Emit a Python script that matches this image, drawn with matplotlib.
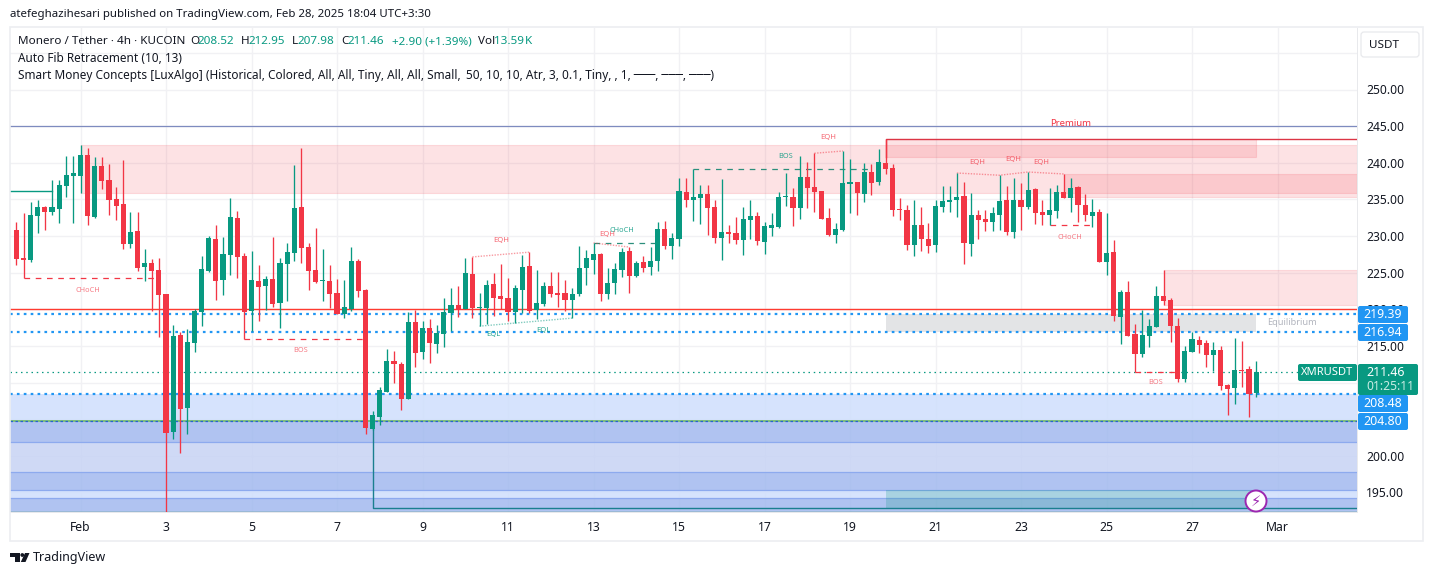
import matplotlib
matplotlib.use('Agg')
import matplotlib.pyplot as plt
from matplotlib.patches import FancyBboxPatch, Rectangle, Circle, Polygon

plt.rcParams['font.family'] = ['Noto Sans', 'DejaVu Sans']

# candles, 4h bars, index 0 is Feb 1 00:00
first_bar = -9
opens = [230.83, 227.0, 226.75, 232.75, 233.97, 233.3, 233.7, 236.8, 238.2, 238.2,
         241.06, 232.6, 239.56, 237.65, 235.06, 234.4, 228.9, 230.7, 225.8, 226.3,
         225.4, 222.1, 203.25, 216.5, 206.5, 215.4, 219.65, 225.25, 229.6, 224.0,
         227.4, 232.47, 227.3, 219.8, 223.9, 223.2, 224.15, 220.9, 226.2, 227.7,
         233.97, 228.5, 225.4, 223.9, 223.9, 222.2, 219.35, 220.05, 226.6, 222.6,
         203.7, 205.3, 208.7, 212.95, 212.55, 207.8, 218.3, 214.2, 217.45, 215.27,
         216.64, 219.5, 220.6, 220.05, 224.85, 220.2, 220.2, 223.47, 221.8, 221.55,
         219.65, 222.65, 225.9, 219.9, 220.75, 223.2, 222.2, 222.2, 221.3, 222.1,
         225.65, 226.7, 227.55, 222.1, 223.6, 225.4, 228.0, 224.55, 226.45, 225.8,
         226.6, 230.97, 228.65, 229.6, 236.0, 234.9, 235.2, 235.75, 233.97, 229.74,
         230.56, 230.4, 229.47, 232.2, 232.75, 229.2, 231.1, 231.25, 235.35, 235.35,
         233.8, 238.06, 236.7, 236.15, 232.47, 230.15, 230.85, 237.1, 237.4, 235.75,
         238.75, 237.4, 239.97, 239.3, 233.7, 233.56, 228.8, 231.5, 229.6, 228.8,
         233.97, 234.65, 234.9, 235.5, 228.9, 232.9, 232.3, 231.9, 232.9, 234.9,
         230.56, 234.9, 233.97, 236.4, 233.3, 232.9, 233.4, 236.0, 235.2, 236.7,
         234.24, 232.74, 233.3, 226.47, 227.8, 218.97, 222.4, 216.65, 213.9, 216.4,
         217.6, 221.8, 221.3, 217.74, 210.5, 214.2, 215.83, 215.4, 213.8, 214.47,
         209.7, 209.3, 211.74, 211.9, 208.52]
highs = [231.9, 233.1, 234.65, 234.9, 234.1, 237.65, 237.65, 240.9, 240.9, 242.4,
         242.0, 240.8, 240.8, 239.8, 236.7, 240.4, 233.3, 233.3, 228.2, 226.9,
         227.0, 222.1, 217.85, 216.9, 217.3, 220.0, 227.3, 230.0, 231.5, 229.9,
         235.2, 233.4, 227.7, 228.0, 226.06, 224.56, 229.9, 227.0, 229.05, 239.7,
         242.0, 229.05, 231.1, 228.2, 226.06, 224.15, 224.0, 228.5, 226.9, 222.8,
         206.1, 209.4, 214.6, 214.3, 212.8, 219.6, 219.9, 218.4, 218.7, 217.86,
         221.55, 222.9, 223.2, 227.0, 227.15, 222.2, 224.0, 225.0, 226.2, 224.3,
         223.3, 227.4, 227.8, 225.4, 223.75, 225.1, 225.1, 224.0, 222.9, 228.65,
         228.1, 229.05, 227.7, 225.65, 226.3, 228.4, 228.5, 226.6, 227.3, 228.5,
         231.9, 232.05, 230.4, 237.9, 237.9, 239.1, 236.97, 236.97, 234.9, 237.8,
         231.5, 232.6, 233.97, 234.9, 233.3, 231.9, 233.15, 236.0, 238.6, 236.56,
         240.9, 240.1, 241.3, 236.15, 233.8, 231.8, 241.6, 240.5, 237.4, 239.97,
         239.8, 241.9, 243.25, 239.8, 235.2, 234.25, 234.9, 233.97, 231.8, 234.9,
         236.8, 236.8, 238.6, 237.4, 235.9, 233.56, 233.56, 233.97, 238.3, 236.8,
         237.9, 237.24, 238.74, 236.6, 234.9, 236.56, 236.97, 238.47, 237.9, 236.8,
         235.74, 235.06, 233.7, 233.15, 229.47, 222.65, 223.9, 218.0, 219.9, 218.7,
         223.2, 225.4, 221.55, 218.8, 215.0, 216.9, 216.4, 215.83, 215.56, 215.0,
         209.8, 216.1, 215.7, 212.3, 212.95]
lows = [226.06, 224.25, 226.5, 230.4, 230.8, 232.9, 231.8, 235.3, 231.8, 235.9,
        231.5, 232.47, 236.4, 232.9, 232.2, 228.2, 228.4, 225.25, 223.9, 219.8,
        216.2, 192.2, 202.3, 200.4, 203.0, 214.2, 217.75, 225.1, 221.3, 222.0,
        224.7, 224.3, 215.9, 217.0, 218.4, 219.9, 220.36, 217.45, 221.15, 226.6,
        226.3, 222.65, 223.6, 221.15, 220.15, 219.35, 218.8, 219.8, 221.7, 203.0,
        203.5, 204.2, 208.7, 209.95, 206.3, 207.8, 212.1, 213.2, 212.7, 214.05,
        214.86, 217.05, 219.0, 220.05, 218.8, 217.7, 218.0, 219.1, 220.05, 218.4,
        218.15, 219.5, 219.5, 218.7, 220.45, 221.7, 220.3, 219.8, 218.8, 221.8,
        223.3, 224.85, 221.15, 221.4, 222.1, 224.4, 222.25, 224.4, 225.1, 224.7,
        225.2, 228.25, 226.9, 228.65, 233.97, 232.05, 231.65, 230.15, 229.05, 226.75,
        229.05, 228.9, 227.45, 229.6, 228.8, 227.6, 230.0, 231.1, 234.1, 231.4,
        232.3, 233.8, 233.3, 232.3, 230.0, 229.05, 230.7, 233.15, 232.9, 234.65,
        235.6, 236.97, 238.47, 232.75, 232.2, 228.1, 227.3, 227.97, 227.7, 227.8,
        233.3, 233.3, 232.6, 226.2, 227.3, 229.6, 230.7, 230.7, 230.8, 230.15,
        229.74, 230.8, 233.7, 231.65, 231.5, 231.5, 232.47, 235.2, 233.3, 231.9,
        232.05, 231.24, 226.47, 224.7, 218.4, 215.3, 216.4, 211.45, 213.5, 214.9,
        217.6, 220.6, 215.56, 210.1, 210.1, 214.2, 214.06, 212.15, 211.6, 209.0,
        205.6, 207.1, 209.4, 205.3, 207.98]
closes = [226.9, 226.75, 232.9, 233.97, 233.3, 233.97, 236.97, 238.3, 238.6, 241.06,
          232.75, 239.56, 237.5, 234.9, 234.1, 228.9, 230.56, 225.65, 226.3, 225.25,
          222.0, 203.1, 216.35, 206.4, 215.5, 219.8, 225.5, 229.74, 223.9, 227.56,
          232.6, 227.15, 219.65, 224.0, 223.05, 224.15, 220.7, 226.3, 227.84, 233.8,
          228.4, 225.25, 223.75, 224.0, 222.1, 219.35, 220.3, 226.6, 222.5, 203.8,
          205.6, 209.0, 212.95, 212.55, 207.8, 218.3, 214.05, 217.45, 215.4, 216.77,
          219.64, 220.6, 219.9, 225.0, 220.2, 220.3, 223.3, 221.55, 221.4, 219.65,
          222.9, 225.8, 219.8, 220.9, 223.2, 222.1, 222.0, 221.3, 222.1, 225.65,
          227.0, 227.55, 222.1, 223.6, 225.5, 227.85, 224.55, 226.3, 225.65, 226.6,
          231.0, 228.65, 229.7, 236.15, 234.9, 235.35, 235.75, 233.8, 229.74, 230.56,
          230.3, 229.47, 232.3, 232.75, 229.3, 231.4, 231.5, 235.35, 235.5, 233.8,
          238.06, 236.56, 236.0, 232.3, 230.15, 230.97, 237.25, 237.4, 235.9, 238.75,
          237.25, 240.1, 239.15, 233.56, 233.56, 228.8, 231.5, 229.6, 228.65, 234.1,
          234.8, 234.9, 235.35, 229.05, 232.9, 232.2, 231.9, 233.15, 234.8, 230.56,
          234.9, 233.97, 236.3, 233.15, 232.9, 233.56, 236.0, 235.2, 236.56, 234.24,
          232.9, 233.3, 226.47, 227.7, 219.1, 222.4, 216.4, 213.9, 216.5, 217.74,
          221.8, 221.15, 217.74, 210.5, 214.3, 215.97, 215.15, 213.8, 214.47, 209.56,
          209.15, 211.74, 211.6, 208.47, 211.46]

# price axis and time axis
price_ticks = [195, 200, 205, 210, 215, 220, 225, 230, 235, 240, 245, 250, 255]
price_labels = ['195.00', '200.00', '', '', '215.00', '220.00', '225.00', '230.00',
                '235.00', '240.00', '245.00', '250.00', '']
time_ticks = [0, 12, 24, 36, 48, 60, 72, 84, 96, 108, 120, 132, 144, 156, 168]
time_labels = ['Feb', '3', '5', '7', '9', '11', '13', '15', '17', '19', '21', '23', '25', '27', 'Mar']

# indicator levels
fib_levels = [219.39, 216.94, 208.48]
fib_lower = 204.80
last_close = 211.46
red_level = 220.1
top_level = 245.0
band_edges = [208.48, 204.8, 201.95, 197.75, 195.4, 194.2, 192.4]

# smart money zones: bar start, bar end (None = right edge), top, bottom
pink_zones = [(0, None, 242.4, 235.9), (113, 165, 243.25, 240.8), (138, None, 238.47, 235.37),
              (152, None, 225.4, 220.6)]

# structure lines: bar start, bar end, price, label, label bar, label price
red_dashed = [(-8, 11, 224.25, 'CHoCH', 1, 222.6), (23, 40, 215.9, 'BOS', 30.9, 214.35),
              (136, 142, 231.47, 'CHoCH', 138.9, 229.85), (148, 154, 211.45, 'BOS', 150.9, 210.0)]
green_dashed = [(72, 81, 229.05, 'CHoCH', 76, 230.8), (86, 111, 239.1, 'BOS', 99, 240.9)]
eqh_points = [([55, 63], [227.15, 227.8]), ([72, 77], [229.05, 228.5]), ([103, 107], [241.3, 241.6]),
              ([123, 129, 133, 138], [238.6, 238.3, 238.74, 238.47])]
eqh_labels = [(59, 229.4), (74, 230.2), (105, 243.4), (125.8, 240.1), (130.9, 240.4), (134.8, 240.1)]
eql_points = [([56, 69], [217.7, 218.8])]
eql_labels = [(57.9, 216.6), (65, 217.1)]

GREEN = '#089981'
RED = '#f23645'
BLUE = '#2196f3'
INK = '#131722'
PW, PH = 1433, 576
BAR_PX = 7.125
PRICE_PX = 7.327

fig = plt.figure(figsize=(PW / 100, PH / 100), dpi=100)
ax = fig.add_axes([10 / PW, 1 - 512 / PH, 1347 / PW, 484 / PH])
ax.set_xlim((10 - 80.5) / BAR_PX, (1357 - 80.5) / BAR_PX)
ax.set_ylim(250 - (512 - 89.5) / PRICE_PX, 250 + (89.5 - 28) / PRICE_PX)

ax.set_yticks(price_ticks)
ax.set_yticklabels(price_labels, fontsize=8.7, color=INK)
ax.yaxis.tick_right()
ax.set_xticks(time_ticks)
ax.set_xticklabels(time_labels, fontsize=8.8, color=INK)
for label in ax.get_xticklabels():
    if label.get_text() in ('Feb', 'Mar'):
        label.set_fontweight('semibold')
ax.tick_params(axis='both', length=0)
ax.tick_params(axis='y', pad=6.5)
ax.tick_params(axis='x', pad=6.5)
ax.grid(color='#f1f1f4', lw=1.0, zorder=0)
ax.set_axisbelow(True)
for name, spine in ax.spines.items():
    spine.set_visible(name in ('right', 'bottom'))
    spine.set_color('#e8e9ec')
    spine.set_linewidth(0.7)

right_bar = ax.get_xlim()[1]

# blue fib bands at the bottom
band_colors = ['#cfdffd', '#a2b9ef', '#c7d3f4', '#a2b9ef', '#cfdffd', '#a2b9ef']
for i in range(len(band_colors)):
    ax.axhspan(band_edges[i + 1], band_edges[i], color=band_colors[i], lw=0, alpha=0.85, zorder=1)
    if i > 0:
        ax.axhline(band_edges[i + 1], color='#8daaee', lw=0.9, zorder=1.2)
ax.axhline(band_edges[1], color='#7cbf7c', lw=1.4, zorder=1.3)
ax.axhline(band_edges[-1], color='#5aa56e', lw=1.0, zorder=1.3)

# premium and other pink zones
for x0, x1, top, bottom in pink_zones:
    x1 = right_bar if x1 is None else x1
    ax.add_patch(Rectangle((x0, bottom), x1 - x0, top - bottom, facecolor=RED, alpha=0.14,
                           edgecolor=RED, lw=0.8, zorder=1.5))
# equilibrium and discount boxes
ax.add_patch(Rectangle((113, 216.94), 52, 2.45, facecolor='#e3e4e6', lw=0, zorder=1.5))
ax.add_patch(Rectangle((113, 192.95), 52, 2.45, facecolor='#089981', alpha=0.22, lw=0, zorder=1.6))
ax.plot([113, 113, right_bar], [240.8, 243.25, 243.25], color='#dc3545', lw=1.0, zorder=1.7)

# horizontal levels
ax.axhline(top_level, color='#7e8bbf', lw=0.9, zorder=2)
ax.axhline(red_level, color='#ff3b30', lw=1.0, zorder=2)
for level in fib_levels:
    ax.axhline(level, color=BLUE, lw=1.6, ls=(0, (1.2, 1.9)), zorder=2)
ax.axhline(fib_lower, color='#2962d0', lw=0.9, ls=(0, (2, 2)), zorder=2)
ax.axhline(last_close, color=GREEN, lw=0.9, ls=(0, (1.2, 3)), zorder=2)

# structure lines
ax.plot([ax.get_xlim()[0], -4], [236.1, 236.1], color=GREEN, lw=1.0, zorder=2.5)
ax.plot([41, 41, right_bar], [204, 192.95, 192.95], color='#1a7f8f', lw=1.0, zorder=2.5)
for x0, x1, price, name, lx, ly in red_dashed:
    ax.plot([x0, x1], [price, price], color=RED, lw=0.9, ls=(0, (4.5, 4.5)), zorder=2.5)
    ax.text(lx, ly, name, color=RED, alpha=0.65, fontsize=5.3, ha='center', va='center', zorder=6)
for x0, x1, price, name, lx, ly in green_dashed:
    ax.plot([x0, x1], [price, price], color='#2c8f7c', lw=0.9, ls=(0, (4.5, 4.5)), zorder=2.5)
    ax.text(lx, ly, name, color=GREEN, alpha=0.85, fontsize=5.3, ha='center', va='center', zorder=6)
for xs, ys in eqh_points:
    ax.plot(xs, ys, color=RED, alpha=0.5, lw=1.0, ls=(0, (1, 1)), zorder=2.5)
for lx, ly in eqh_labels:
    ax.text(lx, ly, 'EQH', color=RED, alpha=0.75, fontsize=5.5, ha='center', va='center', zorder=6)
for xs, ys in eql_points:
    ax.plot(xs, ys, color=GREEN, alpha=0.5, lw=1.0, ls=(0, (1, 1)), zorder=2.5)
for lx, ly in eql_labels:
    ax.text(lx, ly, 'EQL', color=GREEN, alpha=0.85, fontsize=5.5, ha='center', va='center', zorder=6)

ax.text(139, 245.3, 'Premium', color=RED, fontsize=6.9, ha='center', va='center', zorder=3)
ax.text(170, 218.2, 'Equilibrium', color='#b2b5be', fontsize=6.6, ha='center', va='center', zorder=3)

# candles
bars = list(range(first_bar, first_bar + len(closes)))
colors = [GREEN if c >= o else RED for o, c in zip(opens, closes)]
ax.vlines(bars, lows, highs, colors=colors, lw=0.95, zorder=4)
ax.bar(bars, [max(abs(c - o), 0.12) for o, c in zip(opens, closes)],
       bottom=[min(o, c) for o, c in zip(opens, closes)], width=0.72, color=colors, lw=0, zorder=5)

# everything outside the price pane is placed in pixels
ov = fig.add_axes([0, 0, 1, 1], zorder=10)
ov.set_xlim(0, PW)
ov.set_ylim(PH, 0)
ov.axis('off')
ov.patch.set_alpha(0)

ov.add_patch(Rectangle((10, 27), 1413, 514, fill=False, edgecolor='#eceef1', lw=1.2))
ov.text(10, 14, 'atefeghazihesari published on TradingView.com, Feb 28, 2025 18:04 UTC+3:30',
        fontsize=8.25, color=INK, va='center')

# legend lines
ov.text(18, 42, 'Monero / Tether · 4h · KUCOIN', fontsize=8.4, color=INK, va='center')
header = [(190, 'O', INK), (198, '208.52', GREEN), (241, 'H', INK), (249, '212.95', GREEN),
          (292, 'L', INK), (298, '207.98', GREEN), (341, 'C', INK), (348, '211.46', GREEN),
          (392, '+2.90 (+1.39%)', GREEN), (478, 'Vol', INK), (494, '13.59', GREEN), (525, 'K', GREEN)]
for hx, text, color in header:
    ov.text(hx, 42, text, fontsize=8.4, color=color, va='center')
ov.text(18, 59, 'Auto Fib Retracement (10, 13)', fontsize=8.5, color=INK, va='center')
ov.text(18, 76, 'Smart Money Concepts [LuxAlgo] (Historical, Colored, All, All, Tiny, All, All, Small,',
        fontsize=8.5, color=INK, va='center')
ov.text(465.7, 76, '50, 10, 10, Atr, 3, 0.1, Tiny, , 1, ───, ───, ───)', fontsize=8.55, color=INK, va='center')

# USDT button
ov.add_patch(FancyBboxPatch((1361, 32), 58, 25, boxstyle='round,pad=0,rounding_size=3',
                            facecolor='white', edgecolor='#e8e9ec', lw=0.9))
ov.text(1384, 45, 'USDT', fontsize=8.4, color=INK, ha='center', va='center')

# price labels on the axis
for top, text in [(306, '219.39'), (324, '216.94'), (395, '208.48'), (413, '204.80')]:
    ov.add_patch(FancyBboxPatch((1358, top), 50, 17, boxstyle='round,pad=0,rounding_size=2',
                                facecolor=BLUE, edgecolor='none'))
    ov.text(1383, top + 8.5, text, fontsize=8.9, color='white', ha='center', va='center')
ov.add_patch(FancyBboxPatch((1358, 364), 60, 31, boxstyle='round,pad=0,rounding_size=2',
                            facecolor=GREEN, edgecolor='none'))
ov.text(1366, 373, '211.46', fontsize=8.9, color='white', va='center')
ov.text(1366, 387, '01:25:11', fontsize=8.7, color='#c8ece4', va='center')
ov.add_patch(FancyBboxPatch((1298, 364), 59, 17, boxstyle='round,pad=0,rounding_size=2',
                            facecolor=GREEN, edgecolor='none'))
ov.text(1327.5, 372.5, 'XMRUSDT', fontsize=8.0, color='white', ha='center', va='center')

# lightning badge on the last bar
ov.add_patch(Circle((1256, 501), 10.5, facecolor='white', edgecolor='#9c27b0', lw=1.4))
ov.text(1256, 501, '⚡', fontsize=10.5, color='#9c27b0', ha='center', va='center', family='DejaVu Sans')

# TradingView footer logo
ov.add_patch(Polygon([(10, 553), (20, 553), (20, 562), (15, 562), (15, 556.5), (10, 556.5)], color=INK, lw=0))
ov.add_patch(Circle((22.3, 555), 1.9, color=INK, lw=0))
ov.add_patch(Polygon([(25, 553), (29.5, 553), (25.5, 562), (20.8, 562)], color=INK, lw=0))
ov.text(33, 558, 'TradingView', fontsize=9.0, color=INK, va='center')

fig.savefig('out.png', dpi=100)
